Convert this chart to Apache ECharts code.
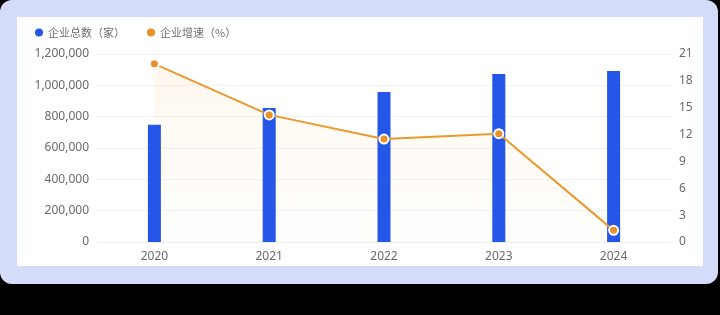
<!DOCTYPE html>
<html><head><meta charset="utf-8">
<script src="https://cdn.jsdelivr.net/npm/echarts@6/dist/echarts.min.js"></script>
<style>html,body{margin:0;padding:0;background:#000;}#c{width:720px;height:315px;}</style>
</head><body><div id="c"></div>
<script>
const categories = ['2020','2021','2022','2023','2024'];
const totalCompanies = [748000, 856000, 958000, 1072000, 1092000];
const growthRate = [19.9, 14.2, 11.5, 12.1, 1.3];
const leftTicks = [0, 200000, 1200000];
const chart = echarts.init(document.getElementById('c'));
chart.setOption({
  backgroundColor: 'transparent',
  animation: false,
  graphic: [
    {type:'rect', left:0, top:0, shape:{width:718, height:284, r:12}, style:{fill:'#d5dcfa'}, z:-10},
    {type:'rect', left:17, top:17, shape:{width:686, height:249, r:0}, style:{fill:'#ffffff'}, z:-9}
  ],
  legend: {
    left: 30, top: 22, itemWidth: 8, itemHeight: 8, itemGap: 22,
    icon: 'circle',
    textStyle: {color:'#707070', fontSize: 11, fontFamily: 'Noto Sans CJK SC'},
    data: ['企业总数（家）','企业增速（%）']
  },
  grid: {left: 97, right: 49, top: 54, bottom: 73},
  xAxis: {
    type:'category', data: categories,
    axisLine:{lineStyle:{color:'#eeeeee'}}, axisTick:{show:false},
    axisLabel:{color:'#6a6a6a', fontSize:12, margin:9, fontFamily:'Noto Sans'}
  },
  yAxis: [
    {type:'value', min:leftTicks[0], max:leftTicks[2], interval:leftTicks[1],
     axisLine:{show:false}, axisTick:{show:false},
     axisLabel:{color:'#6a6a6a', fontSize:12, margin:8, fontFamily:'Noto Sans', formatter: v => v.toLocaleString('en-US')},
     splitLine:{lineStyle:{color:'#f3f3f3'}}},
    {type:'value', min:0, max:21, interval:3,
     axisLine:{show:false}, axisTick:{show:false},
     axisLabel:{color:'#6a6a6a', fontSize:12, margin:8, fontFamily:'Noto Sans'},
     splitLine:{show:false}}
  ],
  series: [
    {name:'企业增速（%）', type:'line', yAxisIndex:1, data: growthRate, z:1,
     symbol:'none', lineStyle:{width:0}, itemStyle:{color:'#e8912a'},
     areaStyle:{color: new echarts.graphic.LinearGradient(0,0,0,1,[{offset:0,color:'rgba(250,205,140,0.22)'},{offset:1,color:'rgba(250,220,170,0.04)'}])}},
    {name:'企业总数（家）', type:'bar', data: totalCompanies, barWidth: 13, z:2,
     itemStyle:{color:'#2457e8'}},
    {name:'企业增速（%）', type:'line', yAxisIndex:1, data: growthRate, z:3,
     symbol:'circle', symbolSize:9,
     itemStyle:{color:'#e8912a', borderColor:'#fff', borderWidth:2},
     lineStyle:{color:'#e89a2e', width:2}}
  ]
});
</script></body></html>
